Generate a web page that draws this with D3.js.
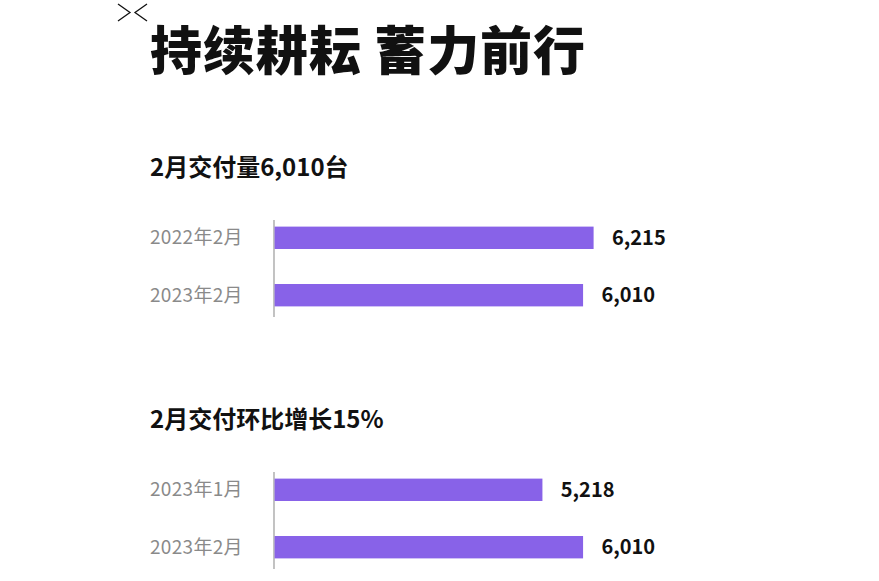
<!DOCTYPE html>
<html>
<head>
<meta charset="utf-8">
<script src="https://cdn.jsdelivr.net/npm/d3@7.9.0/dist/d3.min.js"></script>
<style>
  html, body { margin: 0; padding: 0; background: #fff; }
  svg { display: block; font-family: "Noto Sans CJK SC", "Noto Sans", sans-serif; }
</style>
</head>
<body>
<div id="chart"></div>
<script>
// ---- data ----
const title = '持续耕耘 蓄力前行';
const sectionTitles = ['2月交付量6,010台', '2月交付环比增长15%'];
const yoyLabels = ['2022年2月', '2023年2月'];
const yoyValues = [6215, 6010];
const momLabels = ['2023年1月', '2023年2月'];
const momValues = [5218, 6010];

const width = 879;
const height = 581;
const barColor = '#8862e8';

const svg = d3.select('#chart').append('svg')
  .attr('width', width)
  .attr('height', height);

// little logo mark top-left
const logo = svg.append('g')
  .attr('fill', 'none')
  .attr('stroke', '#111')
  .attr('stroke-width', 1.3);
logo.append('path').attr('d', 'M118,4 L130,12.5 L118,21');
logo.append('path').attr('d', 'M147,4 L135,12.5 L147,21');

// main title
svg.append('text')
  .attr('x', 150)
  .attr('y', 70)
  .attr('font-size', 52)
  .attr('font-weight', 900)
  .attr('fill', '#111')
  .attr('textLength', 435)
  .attr('lengthAdjust', 'spacing')
  .text(title);

// shared x scale so both sections use the same units
const x = d3.scaleLinear()
  .domain([0, 6215])
  .range([274, 593]);

function drawSection(top, heading, labels, values) {
  const g = svg.append('g');

  g.append('text')
    .attr('x', 150)
    .attr('y', top)
    .attr('font-size', 24)
    .attr('font-weight', 700)
    .attr('fill', '#111')
    .text(heading);

  const y = d3.scaleBand()
    .domain(labels)
    .range([top + 42, top + 139])
    .paddingInner(0.61)
    .paddingOuter(0.15);

  g.append('line')
    .attr('x1', x(0)).attr('x2', x(0))
    .attr('y1', top + 44).attr('y2', top + 141)
    .attr('stroke', '#9a9a9a')
    .attr('stroke-width', 1.2);

  const rows = labels.map((d, i) => ({ label: d, value: values[i] }));

  g.selectAll('rect')
    .data(rows)
    .join('rect')
    .attr('x', x(0) + 0.6)
    .attr('y', (d) => y(d.label))
    .attr('width', (d) => x(d.value) - x(0))
    .attr('height', y.bandwidth())
    .attr('fill', barColor);

  g.selectAll('.cat')
    .data(rows)
    .join('text')
    .attr('class', 'cat')
    .attr('x', 150)
    .attr('y', (d) => y(d.label) + y.bandwidth() / 2)
    .attr('dy', '0.35em')
    .attr('font-size', 19)
    .attr('letter-spacing', 0.3)
    .attr('fill', '#8a8a8a')
    .text((d) => d.label);

  g.selectAll('.val')
    .data(rows)
    .join('text')
    .attr('class', 'val')
    .attr('x', (d) => x(d.value) + 19)
    .attr('y', (d) => y(d.label) + y.bandwidth() / 2)
    .attr('dy', '0.35em')
    .attr('font-size', 20)
    .attr('font-weight', 700)
    .attr('fill', '#111')
    .text((d) => d3.format(',')(d.value));
}

drawSection(176, sectionTitles[0], yoyLabels, yoyValues);
drawSection(428, sectionTitles[1], momLabels, momValues);
</script>
</body>
</html>
